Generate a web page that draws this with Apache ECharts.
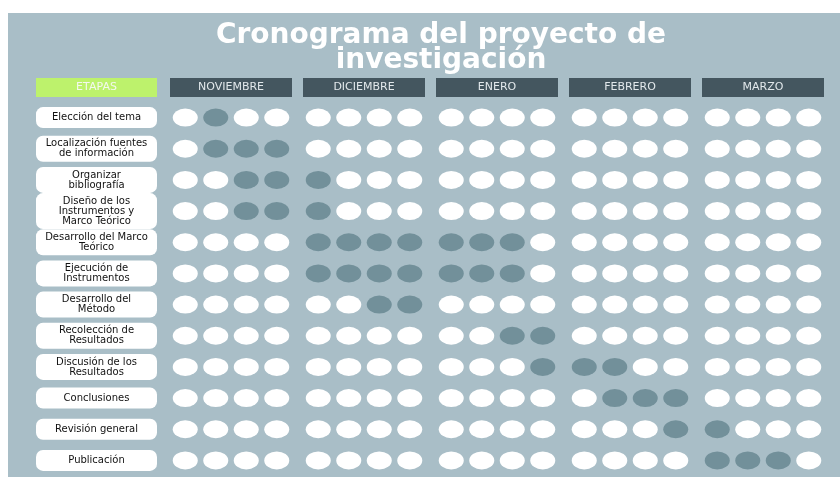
<!DOCTYPE html>
<html>
<head>
<meta charset="utf-8">
<script src="https://cdn.jsdelivr.net/npm/echarts@6/dist/echarts.min.js"></script>
<style>
  html, body { margin: 0; padding: 0; background: #fff; }
  #chart { width: 840px; height: 477px; }
</style>
</head>
<body>
<div id="chart"></div>
<script>
// meses y semanas del cronograma
const meses = ['NOVIEMBRE', 'DICIEMBRE', 'ENERO', 'FEBRERO', 'MARZO'];
const semanas = ['S1', 'S2', 'S3', 'S4'];
const etapas = [
  'Elección del tema',
  'Localización fuentes\nde información',
  'Organizar\nbibliografía',
  'Diseño de los\nInstrumentos y\nMarco Teórico',
  'Desarrollo del Marco\nTeórico',
  'Ejecución de\nInstrumentos',
  'Desarrollo del\nMétodo',
  'Recolección de\nResultados',
  'Discusión de los\nResultados',
  'Conclusiones',
  'Revisión general',
  'Publicación'
];
// semanas activas de cada etapa (0 = 1a semana de noviembre ... 19 = 4a de marzo)
const activas = [
  [1],
  [1, 2, 3],
  [2, 3, 4],
  [2, 3, 4],
  [4, 5, 6, 7, 8, 9, 10],
  [4, 5, 6, 7, 8, 9, 10],
  [6, 7],
  [10, 11],
  [11, 12, 13],
  [13, 14, 15],
  [15, 16],
  [16, 17, 18]
];

const fondo = '#a9bec7';
const activo = '#72909a';
const libre = '#ffffff';

let chart = echarts.init(document.getElementById('chart'));

let grids = [], xAxes = [], yAxes = [], series = [];
meses.forEach((mes, m) => {
  grids.push({ left: 170 + 133 * m, width: 122, top: 102, height: 374 });
  xAxes.push({
    type: 'category',
    gridIndex: m,
    data: semanas,
    position: 'top',
    axisLine: { show: false },
    axisTick: { show: false },
    axisLabel: { show: false },
    splitLine: { show: false },
    name: '{h|' + mes + '}',
    nameLocation: 'middle',
    nameGap: 5,
    nameTextStyle: {
      rich: {
        h: {
          color: '#e2e8eb',
          fontSize: 11,
          fontFamily: 'DejaVu Sans',
          backgroundColor: '#44565f',
          width: 122,
          height: 19,
          lineHeight: 19,
          align: 'center'
        }
      }
    }
  });
  yAxes.push({
    type: 'category',
    gridIndex: m,
    data: etapas,
    inverse: true,
    axisLine: { show: false },
    axisTick: { show: false },
    splitLine: { show: false },
    axisLabel: m === 0 ? {
      interval: 0,
      margin: 73.5,
      align: 'center',
      width: 113,
      backgroundColor: '#ffffff',
      borderRadius: 7,
      padding: [3, 4],
      color: '#111',
      fontSize: 10,
      fontFamily: 'DejaVu Sans',
      formatter: v => v.indexOf('\n') >= 0 ? '{m|' + v + '}' : '{s|' + v + '}',
      rich: {
        s: { lineHeight: 15, fontSize: 10, color: '#111', fontFamily: 'DejaVu Sans' },
        m: { lineHeight: 10, fontSize: 10, color: '#111', fontFamily: 'DejaVu Sans' }
      }
    } : { show: false }
  });
  let data = [];
  etapas.forEach((e, r) => {
    semanas.forEach((s, w) => {
      data.push([w, r, activas[r].indexOf(m * 4 + w) >= 0 ? 1 : 0]);
    });
  });
  series.push({
    type: 'scatter',
    xAxisIndex: m,
    yAxisIndex: m,
    symbol: 'circle',
    symbolSize: [25, 18],
    data: data,
    itemStyle: { color: p => p.value[2] ? activo : libre, opacity: 1 }
  });
});

chart.setOption({
  backgroundColor: '#ffffff',
  animation: false,
  title: {
    text: 'Cronograma del proyecto de\ninvestigación',
    left: 436,
    top: 18,
    textAlign: 'center',
    textStyle: {
      color: '#ffffff',
      fontSize: 28,
      fontWeight: 'bold',
      fontFamily: 'DejaVu Sans',
      lineHeight: 25
    }
  },
  graphic: [
    { type: 'rect', z: -10, silent: true, shape: { x: 8, y: 13, width: 832, height: 464 }, style: { fill: fondo } },
    {
      type: 'rect', silent: true, shape: { x: 36, y: 78, width: 121, height: 19 }, style: { fill: '#bdf26c' }
    },
    {
      type: 'text', silent: true, x: 96.5, y: 87.5,
      style: { text: 'ETAPAS', fill: '#f4f8ee', font: '11px "DejaVu Sans"', align: 'center', verticalAlign: 'middle' }
    }
  ],
  grid: grids,
  xAxis: xAxes,
  yAxis: yAxes,
  series: series
});
</script>
</body>
</html>
